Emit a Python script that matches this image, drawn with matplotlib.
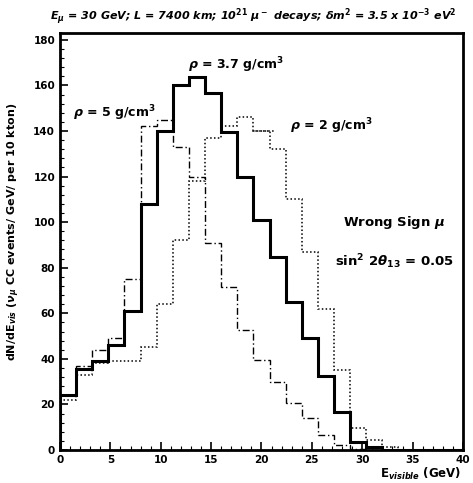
import numpy as np
import matplotlib
matplotlib.use("Agg")
import matplotlib.pyplot as plt
from matplotlib.ticker import MultipleLocator

# 25 bins de 0 a 40 GeV
bordas = np.linspace(0, 40, 26)

rho_37 = [24, 35.5, 39, 46, 61, 108, 140, 160, 163.6, 156.6, 139.5, 120, 101,
          84.6, 65, 49, 32.5, 16.7, 3.5, 1.3, 0, 0, 0, 0, 0]
rho_5 = [24, 37, 44, 49, 75, 142, 145, 133, 120, 91, 71.5, 52.6, 39.5,
         30, 20.6, 14, 6.6, 2, 0.5, 0, 0, 0, 0, 0, 0]
rho_2 = [22, 33, 38, 39, 39, 45, 64, 92, 118, 137, 142, 146, 140,
         132, 110, 87, 62, 35, 9.6, 4.4, 1.3, 0, 0, 0, 0]

y_ticks = list(range(0, 181, 20))
x_ticks = list(range(0, 41, 5))

plt.rcParams["font.family"] = ["DejaVu Sans"]
plt.rcParams["font.weight"] = "bold"

fig = plt.figure(figsize=(4.73, 4.83), dpi=100)
ax = fig.add_axes([0.1268, 0.0683, 0.852, 0.8634])

ax.stairs(rho_37, bordas, color="black", linewidth=2.2)
ax.stairs(rho_5, bordas, color="black", linewidth=1.0, linestyle=(0, (5, 2, 1, 2)))
ax.stairs(rho_2, bordas, color="black", linewidth=1.1, linestyle=(0, (1, 1.5)))

ax.set_xlim(0, 40)
ax.set_ylim(0, 183)
ax.set_xticks(x_ticks)
ax.set_yticks(y_ticks)
ax.xaxis.set_minor_locator(MultipleLocator(1))
ax.yaxis.set_minor_locator(MultipleLocator(4))
ax.tick_params(which="both", direction="in", labelsize=7.5)
ax.tick_params(which="major", length=6, width=1.2)
ax.tick_params(which="minor", length=3, width=0.8)
for lab in ax.get_xticklabels() + ax.get_yticklabels():
    lab.set_fontweight("bold")
for s in ax.spines.values():
    s.set_linewidth(2)

ax.text(17.5, 169, r"$\rho$ = 3.7 g/cm$^3$", ha="center", va="center", fontsize=9, fontweight="bold")
ax.text(5.4, 148, r"$\rho$ = 5 g/cm$^3$", ha="center", va="center", fontsize=9, fontweight="bold")
ax.text(26.9, 142, r"$\rho$ = 2 g/cm$^3$", ha="center", va="center", fontsize=9, fontweight="bold")
ax.plot([19.2, 21.2], [140, 140], color="black", linestyle=(0, (1, 1.5)), linewidth=1.1)
ax.text(33.2, 100, r"Wrong Sign $\mu$", ha="center", va="center", fontsize=9.5, fontweight="bold")
ax.text(33.2, 82.5, r"sin$^2$ 2$\theta_{13}$ = 0.05", ha="center", va="center", fontsize=9.5, fontweight="bold")

fig.text(0.535, 0.965,
         r"E$_\mu$ = 30 GeV; L = 7400 km; 10$^{21}$ $\mu^-$ decays; $\delta$m$^2$ = 3.5 x 10$^{-3}$ eV$^2$",
         ha="center", va="center", fontsize=8, fontweight="bold", style="italic")
fig.text(0.03, 0.52, r"dN/dE$_{vis}$ ($\nu_\mu$ CC events/ GeV/ per 10 kton)",
         rotation=90, ha="center", va="center", fontsize=8, fontweight="bold")
fig.text(0.975, 0.018, r"E$_{visible}$ (GeV)", ha="right", va="center", fontsize=8.5, fontweight="bold")

fig.savefig("out.png", dpi=100)
